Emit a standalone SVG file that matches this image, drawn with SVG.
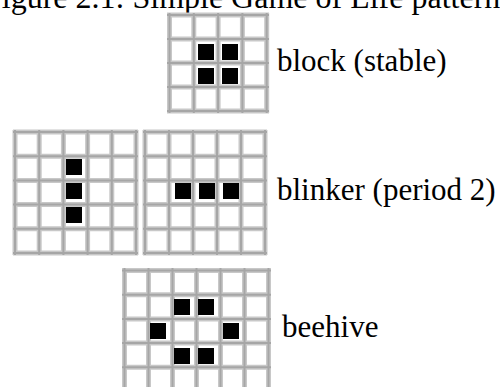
<svg xmlns="http://www.w3.org/2000/svg" xmlns:xlink="http://www.w3.org/1999/xlink" width="500" height="387" viewBox="0 0 500 387">
<style>
.lo{fill:none;stroke:#c8c8c8;stroke-width:5}
.hi{fill:none;stroke:#a6a6a6;stroke-width:2}
.on{fill:#000}
.lbl{font-family:"Liberation Serif","Times New Roman",serif;font-size:31px;fill:#000}
</style>
<defs>
<path id="gBlock" d="M169.5 13V113M193.8 13V113M218.1 13V113M242.4 13V113M266.7 13V113M167 15H269M167 39H269M167 63H269M167 87H269M167 111H269"/>
<path id="gBlinkA" d="M15 130V255M39.2 130V255M63.4 130V255M87.6 130V255M111.8 130V255M136 130V255M13 132H138M13 156.2H138M13 180.4H138M13 204.6H138M13 228.8H138M13 253H138"/>
<path id="gBlinkB" d="M145 130V255M169 130V255M193 130V255M217 130V255M241 130V255M265 130V255M143 132H267M143 156.2H267M143 180.4H267M143 204.6H267M143 228.8H267M143 253H267"/>
<path id="gHive" d="M124.5 268V387M148.5 268V387M172.5 268V387M196.5 268V387M220.5 268V387M244.5 268V387M268.5 268V387M122 270.5H271M122 294.7H271M122 318.9H271M122 343.1H271M122 367.3H271"/>
</defs>
<text id="title" class="lbl" x="-16" y="8" style="font-size:32px">Figure 2.1: Simple Game of Life patterns</text>
<g id="block">
<use xlink:href="#gBlock" class="lo"/><use xlink:href="#gBlock" class="hi"/>
<rect class="on" x="198" y="44" width="16" height="16"/>
<rect class="on" x="222" y="44" width="16" height="16"/>
<rect class="on" x="198" y="68" width="16" height="16"/>
<rect class="on" x="222" y="68" width="16" height="16"/>
<text class="lbl" x="277" y="71">block (stable)</text>
</g>
<g id="blinker">
<g id="blinker-vertical">
<use xlink:href="#gBlinkA" class="lo"/><use xlink:href="#gBlinkA" class="hi"/>
<rect class="on" x="66" y="159" width="16" height="16"/>
<rect class="on" x="66" y="183" width="16" height="16"/>
<rect class="on" x="66" y="207" width="16" height="16"/>
</g>
<g id="blinker-horizontal">
<use xlink:href="#gBlinkB" class="lo"/><use xlink:href="#gBlinkB" class="hi"/>
<rect class="on" x="175" y="183" width="16" height="16"/>
<rect class="on" x="199" y="183" width="16" height="16"/>
<rect class="on" x="223" y="183" width="16" height="16"/>
</g>
<text class="lbl" x="277" y="200">blinker (period 2)</text>
</g>
<g id="beehive">
<use xlink:href="#gHive" class="lo"/><use xlink:href="#gHive" class="hi"/>
<rect class="on" x="174" y="299" width="16" height="16"/>
<rect class="on" x="198" y="299" width="16" height="16"/>
<rect class="on" x="150" y="323" width="16" height="16"/>
<rect class="on" x="223" y="323" width="16" height="16"/>
<rect class="on" x="174" y="348" width="16" height="16"/>
<rect class="on" x="198" y="348" width="16" height="16"/>
<text class="lbl" x="282" y="337">beehive</text>
</g>
<g id="connectors"/>
</svg>
